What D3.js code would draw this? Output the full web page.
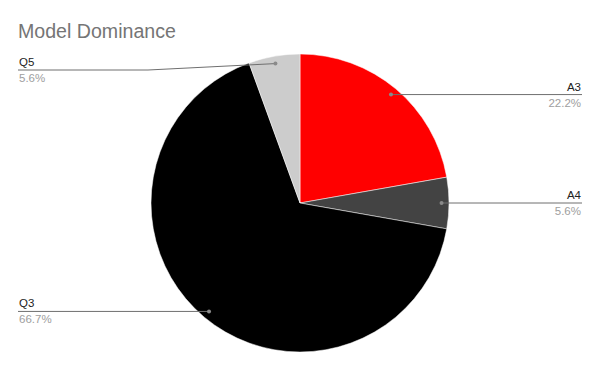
<!DOCTYPE html>
<html>
<head>
<meta charset="utf-8">
<script src="https://cdn.jsdelivr.net/npm/d3@7"></script>
<style>
  body { margin: 0; background: #fff; }
  svg { font-family: "Liberation Sans", Arial, sans-serif; }
</style>
</head>
<body>
<script>
// slice data (counts), in clockwise order from 12 o'clock
var labels = ["A3", "A4", "Q3", "Q5"];
var counts = [4, 1, 12, 1];
var colors = ["#ff0000", "#434343", "#000000", "#cccccc"];

var width = 600, height = 371;
var cx = 300, cy = 203, radius = 149;

var svg = d3.select("body").append("svg")
    .attr("width", width)
    .attr("height", height);

svg.append("text")
    .attr("x", 18)
    .attr("y", 38)
    .style("font-size", "19.6px")
    .style("fill", "#757575")
    .text("Model Dominance");

var total = d3.sum(counts);
var pct = d3.format(".1f");

var pie = d3.pie().sort(null).value(function(d) { return d; });
var arcs = pie(counts);

var arc = d3.arc().innerRadius(0).outerRadius(radius);

var g = svg.append("g")
    .attr("transform", "translate(" + cx + "," + cy + ")");

g.selectAll("path")
    .data(arcs)
  .enter().append("path")
    .attr("d", arc)
    .style("fill", function(d, i) { return colors[i]; })
    .style("stroke", "#fff")
    .style("stroke-width", 0.5);

// label lines + texts
arcs.forEach(function(d, i) {
  var a = (d.startAngle + d.endAngle) / 2;
  var px = cx + Math.sin(a) * radius * 0.95,
      py = cy - Math.cos(a) * radius * 0.95;
  var right = Math.sin(a) > 0;
  var ly = Math.max(py, 70);
  var tx = right ? 582 : 18;

  var pts;
  if (ly !== py) {
    pts = [[tx, ly], [148, ly], [px, py]];
  } else {
    pts = [[tx, ly], [px, py]];
  }
  svg.append("path")
      .attr("d", d3.line()(pts))
      .style("fill", "none")
      .style("stroke", "#6f6f6f")
      .style("stroke-width", 1);
  svg.append("circle")
      .attr("cx", px).attr("cy", py).attr("r", 2)
      .style("fill", "#8a8a8a");

  svg.append("text")
      .attr("x", right ? tx - 1 : tx + 1)
      .attr("y", ly - 4)
      .attr("text-anchor", right ? "end" : "start")
      .style("font-size", "11.5px")
      .style("fill", "#222")
      .text(labels[i]);
  svg.append("text")
      .attr("x", right ? tx - 1 : tx + 1)
      .attr("y", ly + 12)
      .attr("text-anchor", right ? "end" : "start")
      .style("font-size", "11.5px")
      .style("fill", "#9e9e9e")
      .text(pct(d.value / total * 100) + "%");
});
</script>
</body>
</html>
